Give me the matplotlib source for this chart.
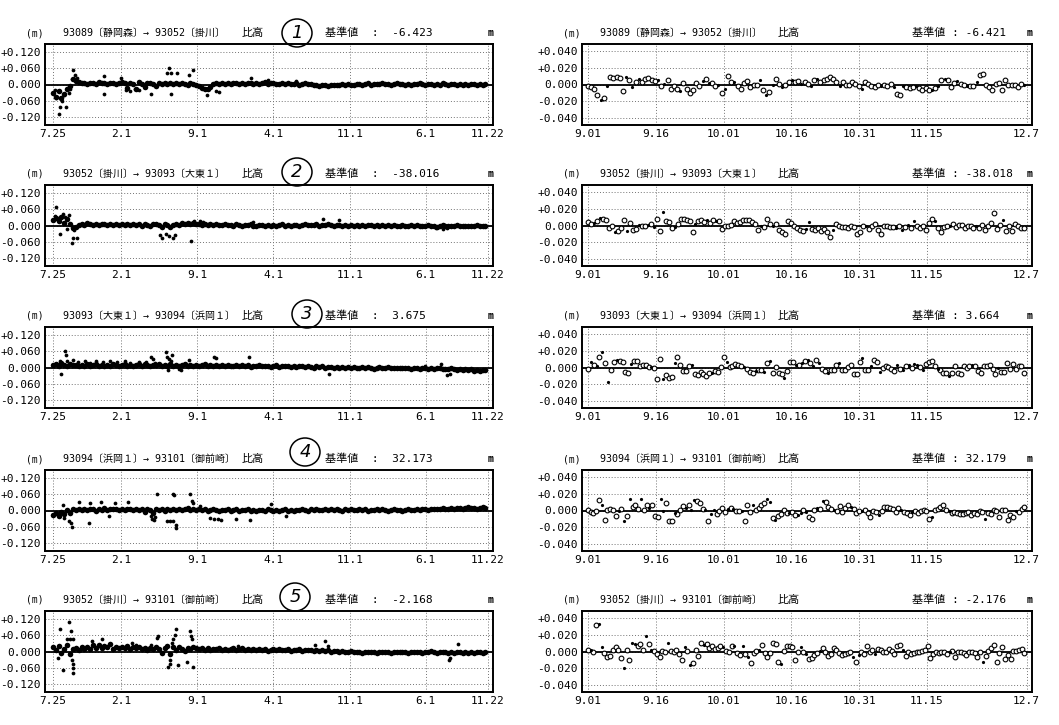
import numpy as np
import matplotlib
matplotlib.use("Agg")
import matplotlib.pyplot as plt
from matplotlib.patches import Ellipse

plt.rcParams['font.family'] = ['DejaVu Sans Mono', 'Noto Sans CJK JP']

# ---- labels -------------------------------------------------------------
titles = ["93089〔静岡森〕→ 93052〔掛川〕",
          "93052〔掛川〕→ 93093〔大東１〕",
          "93093〔大東１〕→ 93094〔浜岡１〕",
          "93094〔浜岡１〕→ 93101〔御前崎〕",
          "93052〔掛川〕→ 93101〔御前崎〕"]
base_left = ["-6.423", "-38.016", "3.675", "32.173", "-2.168"]
base_right = ["-6.421", "-38.018", "3.664", "32.179", "-2.176"]
circle_nums = ["1", "2", "3", "4", "5"]

# long series: days since 7.25, ticks
L_TICK_DAYS = [0, 191, 403, 615, 829, 1041, 1215]
L_TICK_LABELS = ["7.25", "2.1", "9.1", "4.1", "11.1", "6.1", "11.22"]
L_YTICKS = [-0.12, -0.06, 0.0, 0.06, 0.12]
L_YLABELS = ["-0.120", "-0.060", "0.000", "+0.060", "+0.120"]
BAND_STEP = 8  # days between band samples

# short series: days since 9.01
R_TICK_DAYS = [0, 15, 30, 45, 60, 75, 97]
R_TICK_LABELS = ["9.01", "9.16", "10.01", "10.16", "10.31", "11.15", "12.7"]
R_YTICKS = [-0.04, -0.02, 0.0, 0.02, 0.04]
R_YLABELS = ["-0.040", "-0.020", "0.000", "+0.020", "+0.040"]

# ---- long series (mm) ---------------------------------------------------
L1_band = [-30, -45, -25, -50, -35, -15, -5, 20,
           12, 8, 4, 6, 2, 7, 5, 3, 8, 4, 6, 2, 5, 7, 3, 6,
           9, 4, -12, 6, 3, -15, 8, 2, -10, 5, 7, 3, -6, 4,
           2, 5, 3, 6, 1, 4, 2, 5, 3, 0, 4, 2, -2,
           -5, -12, -18, -15, -8, 3, 5, 2,
           5, 3, 6, 2, 4, 7, 3, 5, 2, 6, 4, 1, 5, 3, 6, 8, 2, 4, 5, 1, 3, 6, 2, 4, 1, 3, 5, 0, 2, 4, 1, 3,
           -2, 0, -4, -1, -3, -5, -2, 0, -3, -1, 1, -2, 2, 0, -1, 3, 1, -2, 2, 4, 0, 3, 1, 2, 5, 1, 3, 0, 2, 4,
           1, 3, 0, 2, -1, 3, 1, 4, 2, 0, 3, 1, -2, 2, 0, 4, 1, -1, 2, 3, 0, 1, -2, 2, 0, 3, 1, -1, 2, 0, 1]
L1_out = [(18, -109), (20, -84), (37, -84), (10, -50), (26, -60), (14, -25), (30, -40),
          (5, -20), (44, -30), (48, -15), (57, 54), (62, 35), (52, 20), (66, 25),
          (144, 31), (144, -34), (190, 22), (205, -20), (215, -22), (228, -18), (240, -20),
          (274, -34), (319, 41), (325, 62), (330, 41), (347, 41), (330, -34), (381, 35),
          (390, 54), (431, -37), (455, -25), (465, -28), (553, 22), (600, 15), (680, 12)]

L2_band = [20, 28, 15, 30, 10, 25, 5, -8,
           -5, 3, 6, 2, 8, 4, 3, 7, 2, 5, 4, 1, 6, 3, 5, 2,
           4, 1, 5, 3, 6, 2, 4, 0, 5, 3, -2, 4, 6, 2,
           -4, 5, 2, -6, 3, 7, 2, 9, 5, 8, 4, 10, 6,
           7, 3, 5, 2, 6, 1, 4, 3,
           2, 4, 1, 3, 0, 5, 2, -1, 3, 1, 4, 0, -3, 2, 1, -2, 3, 0, 2, -1, 1, 4, 0, 2, -2, 1, 3, 0, 2, 5, 1, 3,
           2, 4, 0, 3, 1, 5, 2, 0, 3, 1, -1, 2, 0, 3, -2, 1, 0, 2, -1, 1, 3, 0, 2, -1, 1, 0, 2, -2, 1, 0,
           -1, 1, -2, 0, 2, -1, 1, -3, 0, -1, 2, -2, 0, -4, -1, 1, -2, 0, -3, -1, 1, -2, 0, -1, -3, 0, -2, 1, -1, -2, 0]
L2_out = [(10, 66), (5, 35), (27, 41), (46, 39), (15, 25), (35, 30), (19, -31), (53, -65),
          (55, -46), (67, -44), (40, -12), (60, -15), (300, -35), (305, -44), (315, -30),
          (325, -40), (335, -46), (340, -34), (387, -56), (395, 15), (410, 18), (420, 14),
          (754, 22), (800, 20), (560, 12), (1070, -10), (1090, -12), (1100, -8)]

L3_band = [8, 12, 5, 15, 10, 6, 12, 8,
           10, 6, 9, 5, 11, 7, 8, 12, 6, 9, 5, 10, 7, 11, 8, 6,
           9, 12, 7, 10, 5, 8, 11, 7, 13, 9, 6, 10, 8, 12,
           7, 10, 5, 12, 6, 9, 4, 8, 11, 7, 10, 6, 9,
           5, 8, 11, 6, 9, 7, 10, 5,
           8, 6, 9, 4, 7, 10, 5, 8, 6, 9, 3, 7, 5, 8, 4, 6, 7, 3, 5, 8, 2, 6, 4, 7, 3, 5, 1, 4, 6, 2, 5, 3,
           0, 4, 2, 5, -1, 3, 1, -3, 2, 0, 3, -2, 1, -1, 2, -3, 0, 1, -2, 2, -1, -4, 0, 1, -2, -1, 1, -3, 0, -1,
           -2, 0, -3, -1, -4, 0, -2, -5, -1, -3, -4, -2, -6, -3, -1, -5, -4, -7, -3, -6, -8, -5, -9, -6, -10, -7, -11, -8, -12, -9, -10]
L3_out = [(20, 25), (40, 22), (55, 28), (70, 20), (90, 24), (105, 18), (120, 22), (140, 19),
          (160, 25), (180, 20), (200, 23), (215, 18), (240, 21), (260, 20), (285, 17),
          (33, 62), (38, 44), (24, -24), (274, 38), (279, 32), (316, 56), (320, 40), (325, 30),
          (330, 22), (334, 45), (322, -10), (352, -5), (358, -8), (381, 26), (450, 38),
          (455, 33), (548, 38), (770, -25), (1084, 14), (1100, -28), (1110, -25), (1040, 5)]

L4_band = [-15, -8, -20, -5, -12, 2, -10, 4,
           3, 6, 1, 5, 2, 7, 4, 0, 6, 3, 8, 2, 5, 4, 7, 3,
           5, 1, 6, 4, 2, 7, 3, 5, -5, 4, 1, -8, 5, 2,
           4, -3, 6, 2, 7, 3, 5, 1, 4, 8, 3, 6, 2,
           4, 1, 5, -3, 3, 6, 2, 0,
           3, 1, 4, 0, 2, 5, -1, 3, 1, 4, -2, 2, 0, 3, 1, -1, 4, 2, 0, 3, -2, 1, 4, 0, 2, -1, 3, 1, 5, 2, 0, 4,
           2, 5, 1, 3, 6, 2, 4, 1, 5, 3, 0, 4, 2, 6, 1, 3, 5, 2, 4, 0, 3, 1, 5, 2, 4, 3, 0, 2, 4, 1,
           3, 0, 2, 4, 1, 3, 5, 2, 4, 6, 3, 5, 7, 4, 6, 8, 5, 7, 9, 6, 8, 10, 7, 9, 11, 8, 10, 7, 9, 11, 8]
L4_out = [(27, 20), (30, -27), (45, -40), (53, -59), (50, -46), (72, 31), (102, -46),
          (105, 29), (135, 31), (173, 29), (210, 32), (158, -21), (275, -20), (278, -32),
          (282, -34), (285, -24), (290, 60), (320, -37), (328, -37), (335, -37), (335, 62),
          (338, 57), (345, -52), (343, -65), (383, 62), (388, 35), (392, 29), (410, 16),
          (440, -27), (450, -30), (460, -32), (470, -34), (512, -30), (550, -34), (610, 25),
          (650, -21)]

L5_band = [15, 5, 20, -5, 10, 25, -10, 8,
           12, 5, 15, 8, 18, 10, 22, 14, 25, 12, 20, 15, 28, 10, 18, 14,
           16, 12, 20, 8, 15, 11, 18, 9, 14, 6, 12, 10, 15, 8,
           -5, 12, 20, -8, 15, 6, 18, 10, 3, 14, 8, 16, 11,
           9, 13, 7, 11, 6, 10, 8, 12,
           7, 10, 5, 9, 12, 6, 8, 11, 4, 9, 7, 10, 5, 8, 6, 9, 3, 7, 10, 5, 8, 4, 6, 9, 3, 7, 5, 8, 2, 6, 4, 7,
           3, 5, 1, 6, 2, 4, 0, 3, 1, -1, 2, 0, -2, 1, -3, 0, -1, -4, -2, 0, -3, -1, -4, -2, 0, -3, -1, -5, -2, -1,
           -3, 0, -2, -4, -1, -3, 0, -2, -5, -1, -3, 2, -2, -4, 0, -3, -1, -5, -2, -4, -1, -3, -6, -2, -4, -1, -5, -3, -2, -4, -3]
L5_out = [(20, 81), (45, 106), (50, 75), (40, 44), (48, 44), (55, 44), (27, -69), (53, -31),
          (55, -47), (56, -62), (57, -77), (15, -22), (110, 37), (137, 44), (220, 31),
          (232, 22), (275, 25), (290, 50), (294, 56), (327, -31), (328, -47), (322, -56),
          (332, 31), (336, 44), (340, 62), (345, 81), (350, -50), (383, 75), (387, 56),
          (388, 44), (375, -37), (391, -56), (517, 21), (731, 22), (759, 37), (768, 21),
          (1132, 29), (1105, -31), (1110, -22)]

# ---- short series (mm + o = open circle, f = filled dot) ------------------
R1_obs = ("-2o -3o -5o -12o -18f -16o -2f 9o 8o 9o 8o -8o 9f 5o -3f 3o 7f 3o 6o 8o 5o 4o 5f -2o "
          "1f 5o -5o -2o -5o -8f 2o -5o -10o -6o 2o -2o 4f 7o 2f 2o -2o -1f -10o -5f 10o 3o 3f -2o "
          "-5o 2o 4o -3o -1o 0o 5f -6o -13f -9o 0f 7o 1o -3f 0o 3o 5f 3o 4o 1f 3o 1o -2f 5o 7f 3o "
          "5o 7o 9o 7o 3o -2f 3o 0o 0o 3o 1o -2o -5f 3o 1o -2o -3o 0o -2f 0o -2o 1o -3f -11o -12o "
          "-2f -3o -4o -3o -2f -4o -6o -4o -6o -7f -4o -2f 5o 7f 5o -3o 2o 4f 1o 0o -2f -2o -2o 3f "
          "11o 12o 0o -3o -6o 1o 2o -6o 5o 0o 0o 0o -3o 1o -1f").split()
R2_obs = ("4o 2o 3f 5o 9f 8o 7o -3o -1o -8f -6o -3o 6o -6f 3o -5o -4o 1f 0o 0o 1f 2o -2f 8o -7o "
          "16f 5o 4o -3o -2f 2o 8o 8o 7o 5o -8o 2f 5o 6o 4o 7f 3o 6o 5f 5o -4o 0o -1o 1o 5o 3o 4o "
          "6o 7o 6o 4o 2o -5o 0f -2o 8o 2o -1f 2o -5o -8o -10o 5o 3o 0o -3o -5o -7o -4f 4f -4o -5o "
          "-3o -6o -4o -8o -14o -5f 2o 0o -2o -2o -3o -1o -2o -10o -8o -1o -1f -4o 0o 2o -5o -10o "
          "-1o -1o -2o -2o -3f -1o -5f -2o 1f -3o 5f -1o -3o 0o -5o 3o 8o 5f -3o -8o -2o 0o -1f 2o "
          "-2o 1o 1o -3o 0o -1o -3o 0f -3o 1o -5o -1o 3o 15o -4o 1o 6f -6o 0o -6o 2o 0o -3o -3o").split()
R3_obs = ("-2o 6f 3o 2f 12o 18f 5o -17f -3o 6o 9f 8o 7o -5o -6o 4f 8o 8o 2o 3o 3o 1o 1f -1o -14o "
          "10o -14f -9o -13o -11o 5f 12o 3o -4o -4o 2o 3f -8o -9o -5o -8o -10o -7o -7f -4o -5o 1o "
          "13o 7f 1o 2o 4o 3o 2o 1f -2o -5o -7o -4f -3o -3o -5f 5o 8f -6o 1o -6o -8o -13f -4o 6o "
          "6o 3f 3o 5f 8o 9f 5o 2f 9o 5f -2o -4o -7f -3o -3o 3o 5f -3o -3o 1o 3o -8o -8o 6o 11f "
          "-3o -3o 2f 9o 7o -5f -1o 2o 1o -2o -4o 3f -2o -3f 2o 3f -1o 4f 3f 1o -3f 4o 7o 8o 2o "
          "-2f -3o -6o -7o -10f -6o 2o -6o -8o 2o -1o 2o 3f 2o -4o -6o 2o 2o 3o -2o -8o -1f -5o "
          "-5o 5o -2o 4o -2o 2o 2o -6o").split()
R4_obs = ("1o -2o -3o 0o 12o 7f -11o 1o 2o 1o -7o 0f 2o -12f -6o 14f 4o 7o 2o 14f 1o 7o 3f 6o -6o "
          "-8o 14f 0f 9o -12o -12o -3f -4o 1o 5o 3f 6o 1f 12f 11o 9o 2o 1f -12o -4f 1f -4o -1o 3o "
          "-2o 2f 3o 2f 0o -1o -1f -13o 7o -2o 7f 1o 3o 6o 9o 14f 10f -9o -11f -6o -4o 1o -3o -3f "
          "-2o -5o -5f -3f 1o -2f -8o -10o 1o 3f 2o 11f 10o 4o 2o 1f 0o 5o -2o 3o 7o 4f 2o -3o -1o "
          "-1f 1o -3o -8o -1o -2o -5f 0o 4o 4o 3o 2o -2o 3o 1f -2o -3o -5o -2f -1o -3o -1o 1o -1o "
          "-10o -8f 1o 2o 4o 7o 1o 0f -3o -2o -3o -4o -4o -3o -2o -5o -3o -4o -1o -2o -10f -3o -4o "
          "1o 0o -8o 1o 1o -11o -5o -8o -1f -2o 2o 4o").split()
R5_obs = ("2o 2f 0o 32o 33f 5f -2o -6o -5o 2o 5o 2o -8o -20f 2o -10o 10f 9f 7o 9o 2o 18f 9o 2f "
          "1o -3o -6o 1o 0o 10f 1o 0o 2o -3o -10o 5f 1o -16f -14o 2o -5o 10o 8f 9o 4o 6o 3o 4o 6o "
          "5f 1o 0o 7o 7f -2o -4o 6f -3o -6f -14o -2o 1o 2f 8o -2o -6o -2o 10o 9o -12o -15f 1o 7o "
          "6o 5o -10o -1o 5f 0o -3f -9o -8o -4o -2o 1f 4o 0o -5o -3o 4o 2o -2o -4o -3o -2o -1o -6f "
          "-12o -4f 0o -3o 7o -1o 2o -3f 3o 2o -1o 0o 3o 1o -3o 6o 8o 2f -5o -1o -3o -2o -1o -1o "
          "1o 2o 6o -8o -3o 0o -2o -1o 0o -3o -1f 1o -6o -1o 0o -2o -4o -1o -1o -2o -6o 0o -12f "
          "-5o 1o 4o 8o -13o -2o 5o -9o -4o -9o 1o 1o 2o 3o -2o").split()

left_bands = [L1_band, L2_band, L3_band, L4_band, L5_band]
left_outs = [L1_out, L2_out, L3_out, L4_out, L5_out]
right_obs = [R1_obs, R2_obs, R3_obs, R4_obs, R5_obs]

# ---- layout (pixels) ----------------------------------------------------
W, H = 1059, 725
row_top = [44, 185, 327, 470, 611]
box_h = 81
L_X0, L_X1 = 45, 493
R_X0, R_X1 = 582, 1032
circle_xy = [(297, 33), (297, 172), (307, 314), (305, 452), (295, 597)]

fig = plt.figure(figsize=(W / 100, H / 100), dpi=100)
fig.patch.set_facecolor("white")


def px_axes(x0, top, x1, bottom):
    return fig.add_axes([x0 / W, 1 - bottom / H, (x1 - x0) / W, (bottom - top) / H])


def ftext(x, y, s, **kw):
    kw.setdefault("fontsize", 8)
    kw.setdefault("va", "center")
    return fig.text(x / W, 1 - y / H, s, **kw)


def style_axes(ax, xt, xl, yt, yl, xlim, ylim):
    ax.set_xlim(*xlim)
    ax.set_ylim(*ylim)
    ax.set_xticks(xt)
    ax.set_xticklabels(xl)
    ax.set_yticks(yt)
    ax.set_yticklabels(yl)
    ax.grid(True, color="0.45", lw=0.7, ls=(0, (1, 2)))
    ax.axhline(0, color="k", lw=1.3, zorder=3)
    ax.tick_params(length=0, labelsize=8, pad=3)
    for sp in ax.spines.values():
        sp.set_linewidth(1.4)
    ax.set_axisbelow(True)


def header(x0, x1, top, i, base, offs, sep):
    y = top - 11
    ftext(x0 - 1, y, "(m)", ha="right", fontsize=7)
    ftext(x0 + offs[0], y, titles[i], ha="left", fontsize=7.2)
    ftext(x0 + offs[1], y, "比高", ha="left")
    ftext(x0 + offs[2], y, "基準値" + sep + ":" + sep + base, ha="left")
    ftext(x1 - 5, y, "m", ha="left", fontsize=7, weight="bold")


for i in range(5):
    top = row_top[i]

    # long record
    ax = px_axes(L_X0, top, L_X1, top + box_h)
    style_axes(ax, L_TICK_DAYS, L_TICK_LABELS, L_YTICKS, L_YLABELS, (-22, 1229), (-0.148, 0.148))
    band = np.array(left_bands[i]) / 1000.0
    days = np.arange(len(band)) * BAND_STEP
    ax.plot(days, band, "o", ms=4.0, mfc="k", mec="k", mew=0, ls="none", zorder=4)
    od, ov = zip(*left_outs[i])
    ax.plot(od, np.array(ov) / 1000.0, "o", ms=2.7, mfc="k", mec="k", mew=0, ls="none", zorder=4)
    header(L_X0, L_X1, top, i, base_left[i], (18, 197, 280), "  ")

    # last ~3 months
    ax = px_axes(R_X0, top, R_X1, top + box_h)
    style_axes(ax, R_TICK_DAYS, R_TICK_LABELS, R_YTICKS, R_YLABELS, (-1.3, 98.2), (-0.048, 0.048))
    obs = right_obs[i]
    vals = np.array([float(t[:-1]) for t in obs]) / 1000.0
    kind = np.array([t[-1] for t in obs])
    rd = np.linspace(0, 96.5, len(obs))
    op = kind == "o"
    ax.plot(rd[op], vals[op], "o", ms=3.4, mfc="white", mec="k", mew=0.8, ls="none", zorder=4)
    ax.plot(rd[~op], vals[~op], "o", ms=2.3, mfc="k", mec="k", mew=0, ls="none", zorder=5)
    header(R_X0, R_X1, top, i, base_right[i], (18, 196, 330), " ")

    # hand-drawn circled row number
    cx, cy = circle_xy[i]
    fig.add_artist(Ellipse((cx / W, 1 - cy / H), 30 / W, 28 / H, transform=fig.transFigure,
                           fill=False, lw=1.1, color="k"))
    ftext(cx, cy, circle_nums[i], ha="center", fontsize=13, family="DejaVu Sans",
          style="italic", weight="light")

fig.savefig("out.png", dpi=100)
